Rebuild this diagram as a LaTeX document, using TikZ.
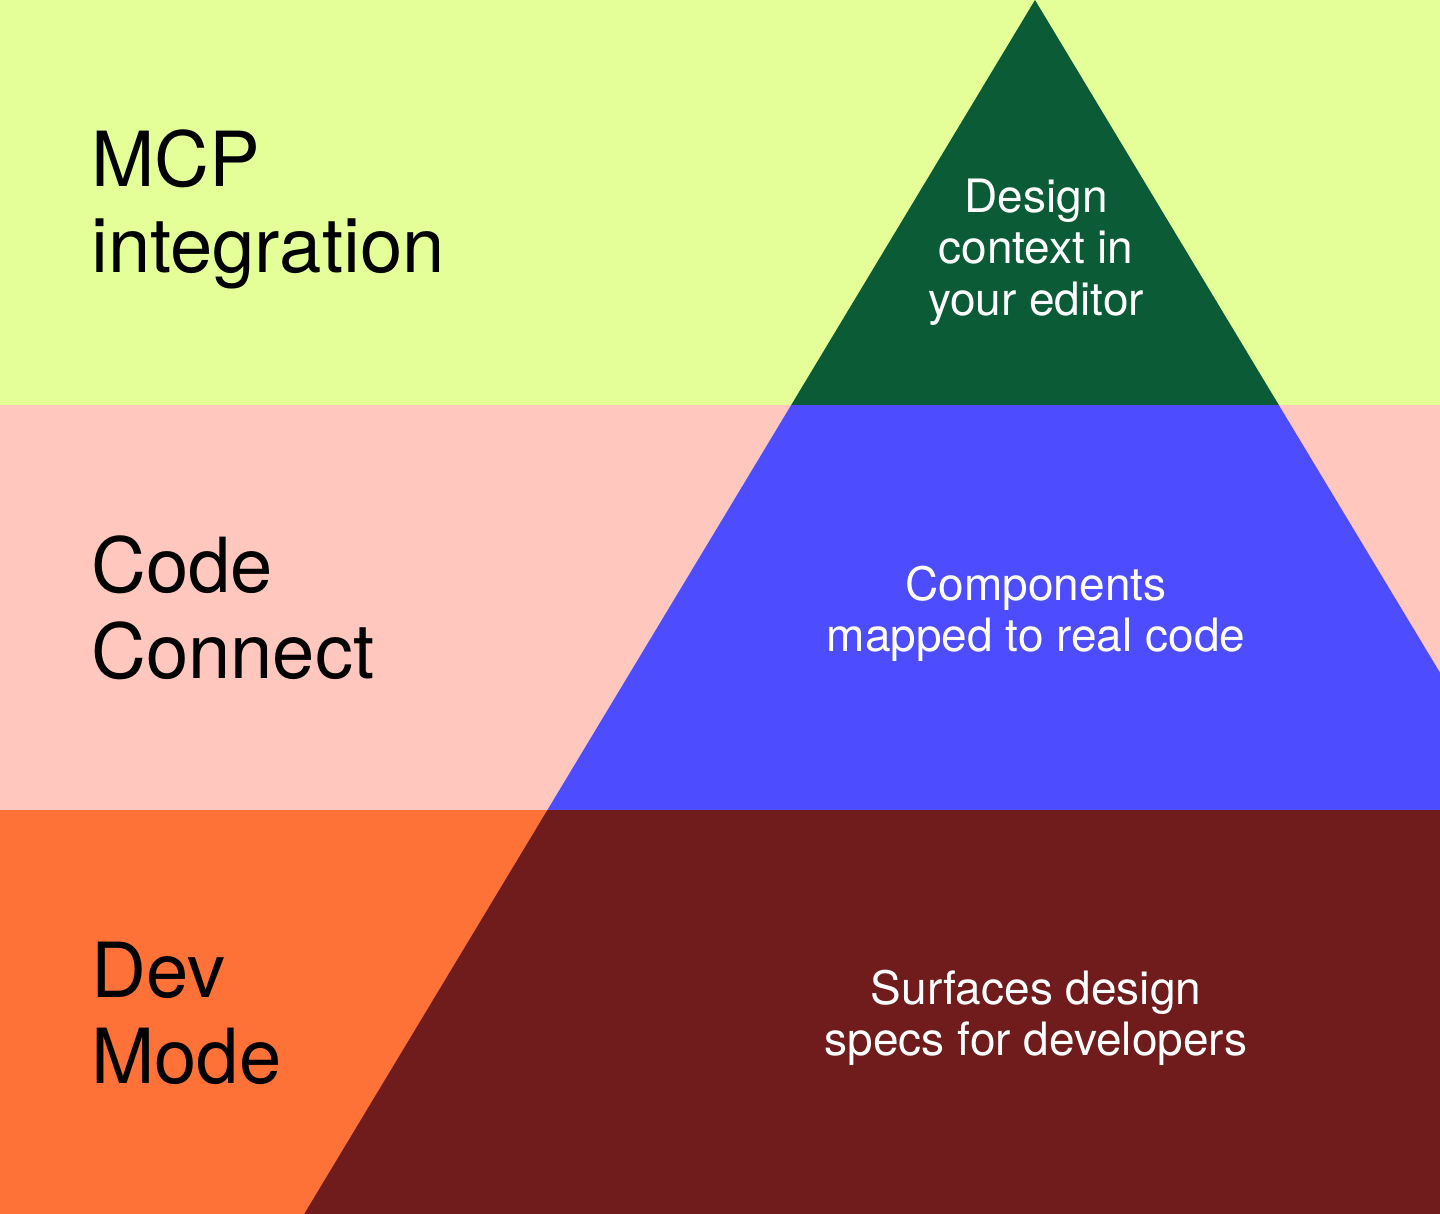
\documentclass[tikz,border=0pt]{standalone}
\usepackage{fontspec}
\setmainfont{TeX Gyre Heros}
\definecolor{bandtop}{HTML}{E4FF97}
\definecolor{bandmid}{HTML}{FFC7BE}
\definecolor{bandbot}{HTML}{FF7237}
\definecolor{tritop}{HTML}{0B5C36}
\definecolor{trimid}{HTML}{4D4DFF}
\definecolor{tribot}{HTML}{701C1C}
\tikzset{
  biglabel/.style={anchor=base west, inner sep=0pt, text=black, font=\fontsize{76}{87}\selectfont},
  whitelabel/.style={anchor=base, inner sep=0pt, text=white, font=\fontsize{46}{52}\selectfont},
}
\begin{document}
\begin{tikzpicture}[x=1pt, y=-1pt]
\useasboundingbox (0,0) rectangle (1440,1214);
% bands
\fill[bandtop] (0,0) rectangle (1440,405);
\fill[bandmid] (0,405) rectangle (1440,810);
\fill[bandbot] (0,810) rectangle (1440,1214);
% pyramid
\fill[tritop] (1035,0) -- (1278.8,405) -- (791.2,405) -- cycle;
\fill[trimid] (791.2,405) -- (1278.8,405) -- (1440,672.7) -- (1440,810) -- (547.4,810) -- cycle;
\fill[tribot] (547.4,810) -- (1440,810) -- (1440,1214) -- (304.2,1214) -- cycle;
% left labels
\node[biglabel] (mcp1) at (91,187) {MCP};
\node[biglabel] (mcp2) at (91,273) {integration};
\node[biglabel] (cc1) at (91,592) {Code};
\node[biglabel] (cc2) at (91,678) {Connect};
\node[biglabel] (dm1) at (91,997) {Dev};
\node[biglabel] (dm2) at (91,1083) {Mode};
% pyramid texts
\node[whitelabel] (t1) at (1036,213) {Design};
\node[whitelabel] (t2) at (1036,264) {context in};
\node[whitelabel] (t3) at (1036,316) {your editor};
\node[whitelabel] (m1) at (1036,600) {Components};
\node[whitelabel] (m2) at (1036,651) {mapped to real code};
\node[whitelabel] (b1) at (1036,1004) {Surfaces design};
\node[whitelabel] (b2) at (1036,1055) {specs for developers};
\end{tikzpicture}
\end{document}
